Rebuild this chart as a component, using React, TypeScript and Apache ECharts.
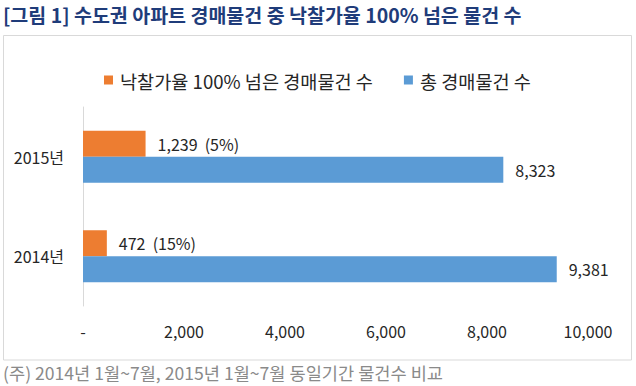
import React, { useEffect, useRef } from 'react';
import * as echarts from 'echarts';

const categories = ['2014년', '2015년'];
const seriesNames = ['낙찰가율 100% 넘은 경매물건 수', '총 경매물건 수'];
const over100Counts = [472, 1239];
const over100Shares = ['(15%)', '(5%)'];
const totalCounts = [9381, 8323];
const xMin = 0;
const xMax = 10000;
const xStep = 2000;
const titleText = '[그림 1] 수도권 아파트 경매물건 중 낙찰가율 100% 넘은 물건 수';
const noteText = '(주) 2014년 1월~7월, 2015년 1월~7월 동일기간 물건수 비교';

const FONT = '"Noto Sans CJK KR", "Noto Sans", sans-serif';
const fmt = (v: number) => (v === 0 ? '-' : v.toLocaleString('en-US'));

export default function App() {
  const ref = useRef<HTMLDivElement>(null);
  useEffect(() => {
    if (!ref.current) return;
    const chart = echarts.init(ref.current, undefined, { renderer: 'svg' });
    chart.setOption({
      animation: false,
      backgroundColor: '#ffffff',
      textStyle: { fontFamily: FONT },
      title: {
        text: titleText,
        left: 3,
        top: 4,
        padding: 0,
        textStyle: { fontFamily: FONT, fontSize: 19.5, fontWeight: 'bold', color: '#1F3C7A', lineHeight: 20 },
      },
      graphic: [
        {
          type: 'rect',
          shape: { x: 3.5, y: 35.5, width: 628, height: 324.5 },
          style: { fill: 'none', stroke: '#D9D9D9', lineWidth: 1 },
          silent: true,
        },
        {
          type: 'text',
          left: 3,
          top: 364,
          style: { text: noteText, fontFamily: FONT, fontSize: 17.6, fill: '#8A8A8A' },
          silent: true,
        },
      ],
      legend: {
        data: seriesNames,
        left: 104,
        top: 70,
        padding: 0,
        icon: 'rect',
        itemWidth: 9,
        itemHeight: 9,
        itemGap: 31,
        textStyle: { fontFamily: FONT, fontSize: 18.6, color: '#262626', lineHeight: 20, padding: [0, 0, 0, 2] },
      },
      grid: { left: 83, right: 48, top: 107, bottom: 80, containLabel: false },
      xAxis: {
        type: 'value',
        min: xMin,
        max: xMax,
        interval: xStep,
        axisLine: { show: false },
        axisTick: { show: false },
        splitLine: { show: false },
        axisLabel: {
          formatter: fmt,
          fontFamily: FONT,
          fontSize: 16,
          color: '#262626',
          margin: 17,
        },
      },
      yAxis: {
        type: 'category',
        data: categories,
        axisLine: { show: true, lineStyle: { color: '#D9D9D9', width: 1 } },
        axisTick: { show: false },
        axisLabel: { fontFamily: FONT, fontSize: 16, color: '#262626', margin: 19 },
      },
      series: [
        {
          name: seriesNames[0],
          type: 'bar',
          data: over100Counts,
          barWidth: 26,
          barGap: '0%',
          itemStyle: { color: '#ED7D31' },
          label: {
            show: true,
            position: 'right',
            distance: 12,
            fontFamily: FONT,
            fontSize: 16,
            color: '#262626',
            formatter: (p: any) => `${fmt(p.value)}  ${over100Shares[p.dataIndex]}`,
          },
        },
        {
          name: seriesNames[1],
          type: 'bar',
          data: totalCounts,
          barWidth: 26,
          barGap: '0%',
          itemStyle: { color: '#5B9BD5' },
          label: {
            show: true,
            position: 'right',
            distance: 12,
            fontFamily: FONT,
            fontSize: 16,
            color: '#262626',
            formatter: (p: any) => fmt(p.value),
          },
        },
      ],
    });
    return () => chart.dispose();
  }, []);
  return (
    <div
      ref={ref}
      style={{ position: 'fixed', left: 0, top: 0, width: 636, height: 386, background: '#fff' }}
    />
  );
}
